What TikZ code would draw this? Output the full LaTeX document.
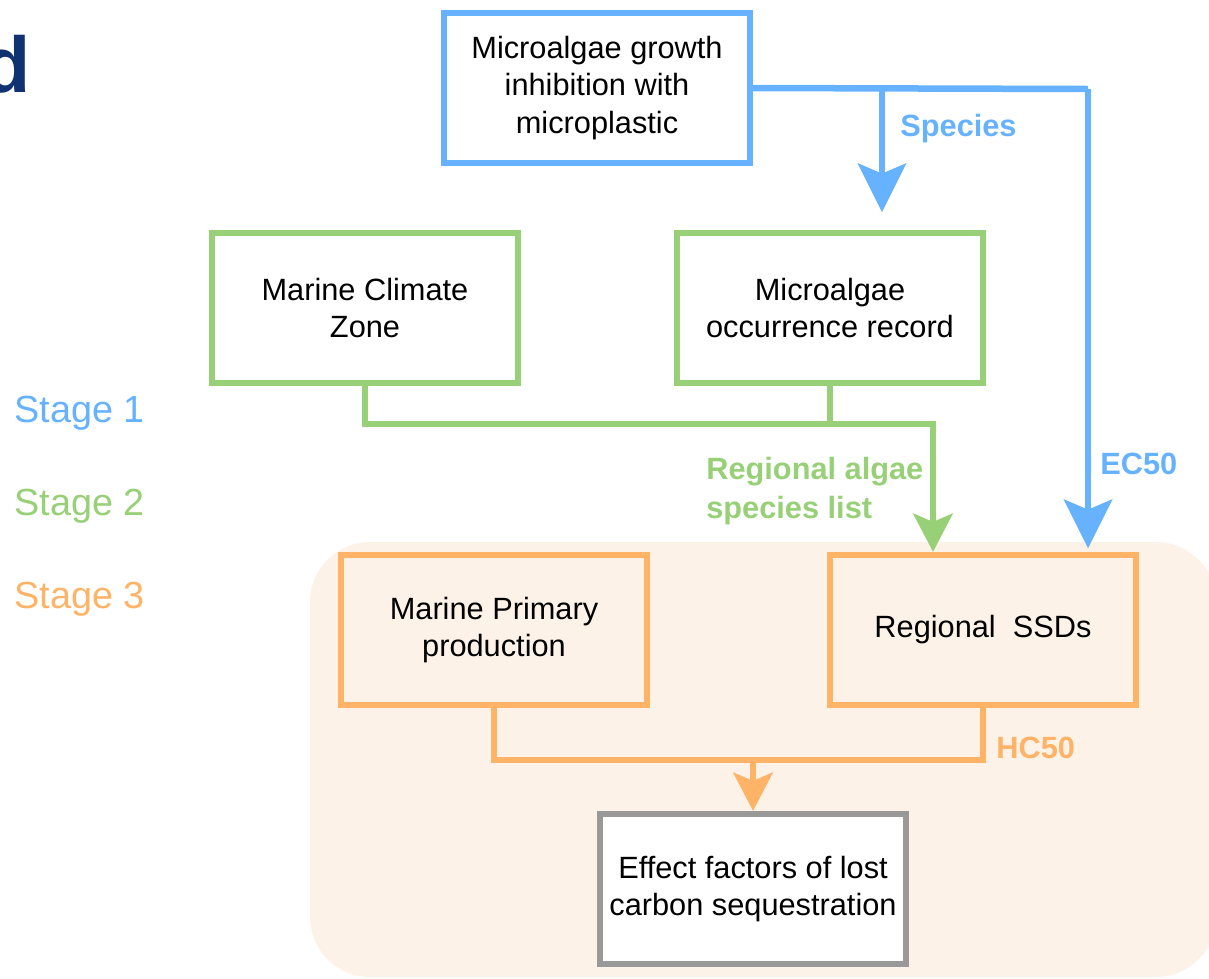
\documentclass[tikz,border=0pt]{standalone}
\usepackage{fontspec}
\setmainfont{Liberation Sans}
\usetikzlibrary{arrows.meta}
\definecolor{stageblue}{RGB}{102,178,255}
\definecolor{stagegreen}{RGB}{151,208,119}
\definecolor{stageorange}{RGB}{255,179,102}
\definecolor{boxgray}{RGB}{153,153,153}
\definecolor{bgorange}{RGB}{253,242,232}
\definecolor{titleblue}{RGB}{16,50,112}
\begin{document}
\begin{tikzpicture}[x=0.02cm, y=-0.02cm,
  box/.style={draw, line width=3.7pt, minimum width=6.12cm, minimum height=3cm, align=center, font=\fontsize{17.5}{21.5}\selectfont},
  link/.style={line width=3.7pt},
  bigtip/.style={-{Stealth[length=28pt,width=28pt,inset=6pt,line width=0pt]}},
  smalltip/.style={-{Stealth[length=22pt,width=23pt,inset=5pt,line width=0pt]}},
  tag/.style={anchor=west, inner sep=0pt, font=\fontsize{17.5}{22}\selectfont\bfseries},
  stagelabel/.style={anchor=west, inner sep=0pt, font=\fontsize{21.5}{26}\selectfont}]
\useasboundingbox (0,0) rectangle (1209,978);
\fill[bgorange, rounded corners=1.2cm] (310,542) rectangle (1216,977);
\node[anchor=base east, inner sep=0pt, text=titleblue, font=\fontsize{45}{50}\selectfont\bfseries] (cut) at (31,92) {d};
% stages
\foreach \y/\c/\n in {413/stageblue/1,506/stagegreen/2,599/stageorange/3}{
    \node[stagelabel, text=\c] (stage\n) at (14,\y) {Stage \n};
}
% boxes
\node[box, draw=stageblue] (micro) at (597,88) {Microalgae growth\\inhibition with\\microplastic};
\node[box, draw=stagegreen] (mcz) at (365,308) {Marine Climate\\Zone};
\node[box, draw=stagegreen] (occ) at (830,308) {Microalgae\\occurrence record};
\node[box, draw=stageorange] (mpp) at (494,630) {Marine Primary\\production};
\node[box, draw=stageorange] (ssd) at (983,630) {Regional\ \ SSDs};
\node[box, draw=boxgray, fill=white] (effect) at (753,889) {Effect factors of lost\\carbon sequestration};
% stage 1 links
\coordinate (spturn) at (882,89);
\coordinate (ecturn) at (1088,89);
\draw[link, stageblue] (micro.east) -- (ecturn);
\draw[link, stageblue, bigtip, shorten >=10pt] (spturn) -- (spturn |- occ.north);
\draw[link, stageblue, bigtip, shorten >=2pt] (ecturn) -- (ecturn |- ssd.north);
\node[tag, text=stageblue] (species) at (900,129) {Species};
\node[tag, text=stageblue] (ec) at (1100,464) {EC50};
% stage 2 links
\coordinate (spjoin) at (933,424);
\draw[link, stagegreen] (occ.south) -- (occ.south |- spjoin);
\draw[link, stagegreen, smalltip] (mcz.south) |- (spjoin) -- (spjoin |- ssd.north);
\node[tag, text=stagegreen, align=left] (list) at (706,491) {Regional algae\\species list};
% stage 3 links
\coordinate (hcrow) at (0,760);
\draw[link, stageorange] (mpp.south) |- (hcrow -| ssd.south) -- (ssd.south);
\draw[link, stageorange, smalltip] (hcrow -| effect.north) -- (effect.north);
\node[tag, text=stageorange] (hc) at (996,748) {HC50};
\end{tikzpicture}
\end{document}
